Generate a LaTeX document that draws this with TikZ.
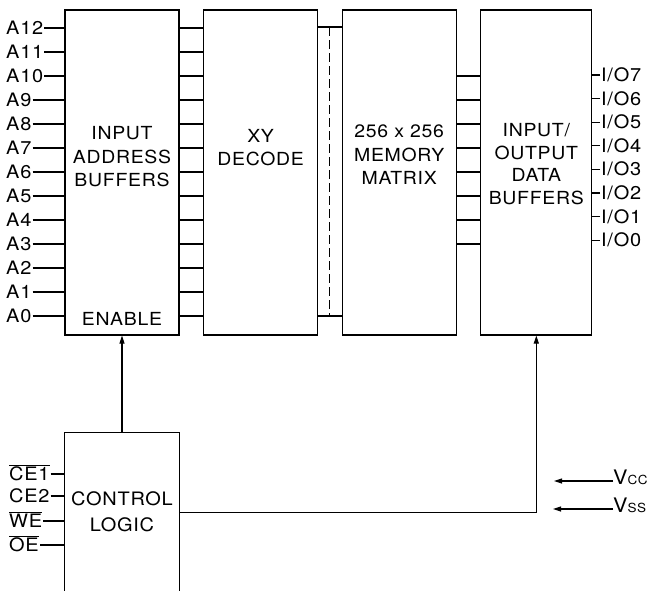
\documentclass[tikz,border=0pt]{standalone}
\usepackage{fontspec}
\setmainfont{TeX Gyre Heros}[FakeStretch=1.08, LetterSpace=4]
\usepackage{tikz}
\usetikzlibrary{arrows.meta, positioning, calc}
\newcommand{\ovl}[1]{$\overline{\mbox{#1}}$}

\begin{document}
\begin{tikzpicture}[
          x = 1pt, y = -1pt,
          node distance = 23.5pt,
          block/.style = {draw, line width=1.1pt, minimum width=114pt,
                          minimum height=325pt, inner sep=0pt},
          blocktext/.style = {font=\fontsize{18}{23.5}\selectfont, align=center},
          pinlabel/.style = {font=\fontsize{18.5}{18.5}\selectfont, anchor=west,
                             inner sep=1pt, text height=13pt, text depth=0pt},
          wire/.style = {line width=1.1pt},
          arr/.style = {-{Triangle[length=8pt, width=5pt]}, line width=1.1pt},
        ]
        \useasboundingbox (0,0) rectangle (651,590);

        %% Blocks
        \node[block] (iab) at (122,172.5) {};
        \node[block, right=of iab] (xyd) {};
        \node[block, right=of xyd] (mem) {};
        \node[block, right=of mem, minimum width=111pt] (iob) {};
        \node[block, draw=none, below=97pt of iab, minimum height=158pt,
              font=\fontsize{18.5}{26}\selectfont, align=center] (ctl) {CONTROL\\LOGIC};
        \draw[wire] (ctl.south west) |- (ctl.north east) -- (ctl.south east);

        %% Block texts
        \node[blocktext] (iabtxt) at ([yshift=15.5pt]iab.center) {INPUT\\ADDRESS\\BUFFERS};
        \node[blocktext, anchor=base] (enable) at ([yshift=10pt]iab.south) {ENABLE};
        \node[blocktext] (xydtxt) at ([yshift=25pt]xyd.center) {XY\\DECODE};
        \node[blocktext] (memtxt) at ([yshift=17.5pt]mem.center) {256 x 256\\MEMORY\\MATRIX};
        \node[blocktext, font=\fontsize{18}{22.5}\selectfont] (iobtxt) at ([yshift=8.5pt]iob.center)
              {INPUT/\\OUTPUT\\DATA\\BUFFERS};

        %% Address inputs and buffer outputs
        \foreach \i in {0,...,12}{
          \pgfmathtruncatemacro{\n}{12-\i}
          \node[pinlabel] (a\n) at (5,{28+24*\i}) {A\n};
          \draw[wire] (a\n) -- (a\n -| iab.west);
          \draw[wire] (a\n -| iab.east) -- (a\n -| xyd.west);
        }

        %% Decoder to matrix
        \coordinate (xytop) at (0,27);
        \coordinate (xybot) at (0,316);
        \draw[wire] (xyd.east |- xytop) -- (mem.west |- xytop);
        \draw[wire] (xyd.east |- xybot) -- (mem.west |- xybot);
        \coordinate (dtop) at ($(xyd.east |- xytop)!0.5!(mem.west |- xytop)$);
        \coordinate (dbot) at ($(xyd.east |- xybot)!0.5!(mem.west |- xybot)$);
        \draw[wire, dash pattern=on 9pt off 4pt] (dtop) -- (dbot);

        %% Matrix to data buffers, data pins
        \foreach \j in {0,...,7}{
          \pgfmathtruncatemacro{\n}{7-\j}
          \coordinate (m\n) at (0,{76+24*\j});
          \draw[wire] (mem.east |- m\n) -- (iob.west |- m\n);
          \node[pinlabel] (io\n) at (600,{75+23.6*\j}) {I/O\n};
          \draw[wire] (io\n) -- (io\n -| iob.east);
        }

        %% Control inputs
        \foreach \lab/\yy/\nm in {\ovl{CE1}/474/ce1, CE2/496/ce2, \ovl{WE}/521/we, \ovl{OE}/545/oe}{
          \node[pinlabel] (\nm) at (8,\yy) {\lab};
          \draw[wire] (\nm) -- (\nm -| ctl.west);
        }

        %% Control arrows
        \draw[arr] (ctl.north) -- (ctl.north |- iab.south);
        \draw[arr] (ctl.east) -| (iob.south);

        %% Supply
        \node[anchor=base west, inner sep=0pt, font=\fontsize{20}{20}\selectfont] (vcc)
              at (613,484) {V{\fontsize{12.5}{12.5}\selectfont CC}};
        \node[anchor=base west, inner sep=0pt, font=\fontsize{20}{20}\selectfont] (vss)
              at (613,512) {V{\fontsize{12.5}{12.5}\selectfont SS}};
        \coordinate (vccin) at (554,481);
        \coordinate (vssin) at (553,509);
        \draw[arr] (vcc.west |- vccin) -- (vccin);
        \draw[arr] (vss.west |- vssin) -- (vssin);
      \end{tikzpicture}
\end{document}
